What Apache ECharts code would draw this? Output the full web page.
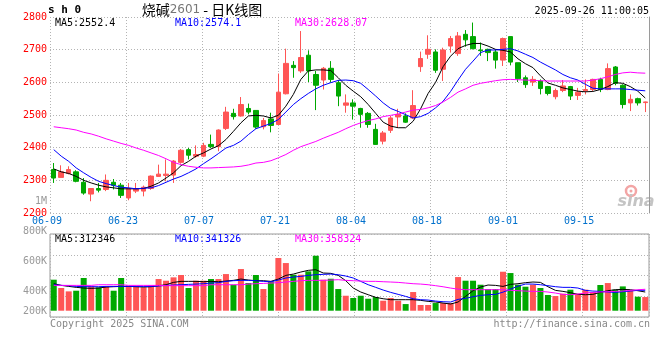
<!DOCTYPE html>
<html><head><meta charset="utf-8">
<script src="https://cdn.jsdelivr.net/npm/echarts@6/dist/echarts.min.js"></script>
<style>html,body{margin:0;padding:0;background:#fff}#c{width:660px;height:360px}</style>
</head><body><div id="c"></div>
<script>
const dates = ['06-09','06-10','06-11','06-12','06-13','06-16','06-17','06-18','06-19','06-20','06-23','06-24','06-25','06-26','06-27','06-30',
'07-01','07-02','07-03','07-04','07-07','07-08','07-09','07-10','07-11','07-14','07-15','07-16','07-17','07-18','07-21','07-22','07-23','07-24','07-25','07-28','07-29','07-30','07-31',
'08-01','08-04','08-05','08-06','08-07','08-08','08-11','08-12','08-13','08-14','08-15','08-18','08-19','08-20','08-21','08-22','08-25','08-26','08-27','08-28','08-29',
'09-01','09-02','09-03','09-04','09-05','09-08','09-09','09-10','09-11','09-12','09-15','09-16','09-17','09-18','09-19','09-22','09-23','09-24','09-25','09-26'];
const dateTicks = ['06-09','06-23','07-07','07-21','08-04','08-18','09-01','09-15'];

const openP = [2333,2309,2321,2326,2294,2258,2275,2272,2294,2285, 2246,2267,2267,2275,2312,2315,2316,2355,2394,2374, 2374,2410,2403,2459,2505,2497,2520,2514,2464,2488, 2471,2565,2652,2635,2683,2624,2607,2643,2599,2530, 2537,2520,2505,2456,2420,2453,2494,2497,2491,2648, 2686,2693,2640,2711,2688,2747,2740,2699,2701,2693, 2668,2740,2660,2614,2601,2604,2587,2556,2575,2587, 2560,2574,2578,2609,2578,2647,2591,2537,2550,2538];
const closeP = [2307,2326,2333,2297,2261,2275,2270,2300,2285,2254, 2275,2275,2279,2313,2319,2319,2359,2392,2377,2379, 2407,2403,2454,2509,2495,2532,2509,2463,2483,2468, 2570,2658,2645,2676,2635,2591,2643,2609,2558,2537, 2527,2502,2471,2410,2445,2491,2502,2478,2529,2673, 2701,2637,2699,2734,2742,2730,2703,2697,2691,2668, 2734,2662,2611,2593,2609,2581,2566,2575,2589,2558, 2570,2578,2609,2578,2642,2597,2532,2548,2537,2540];
const lowP = [2292,2309,2318,2294,2256,2236,2263,2267,2272,2246, 2239,2261,2251,2271,2312,2297,2292,2351,2364,2369, 2371,2399,2389,2454,2486,2495,2502,2458,2456,2447, 2471,2563,2614,2629,2601,2515,2578,2599,2527,2507, 2486,2461,2461,2410,2410,2445,2461,2476,2488,2632, 2672,2629,2604,2691,2681,2709,2701,2681,2665,2642, 2650,2652,2601,2583,2589,2563,2560,2548,2570,2546, 2546,2563,2573,2570,2576,2591,2520,2512,2529,2509];
const highP = [2353,2346,2343,2331,2307,2275,2292,2318,2304,2292, 2292,2292,2284,2315,2348,2364,2362,2396,2399,2407, 2415,2440,2456,2525,2519,2555,2535,2514,2491,2507, 2627,2703,2665,2757,2698,2635,2647,2665,2607,2563, 2548,2522,2509,2473,2451,2497,2519,2505,2576,2694, 2744,2701,2706,2742,2754,2760,2783,2722,2703,2701, 2737,2740,2660,2621,2619,2609,2589,2581,2607,2589, 2583,2609,2611,2614,2658,2650,2594,2563,2553,2541];

const ma5 = [2335,2326,2321,2312,2300,2292,2285,2280,2277,2274, 2274,2274,2275,2282,2292,2307,2323,2345,2358,2374, 2384,2396,2406,2425,2450,2476,2497,2499,2497,2491, 2499,2527,2563,2609,2635,2638,2638,2636,2614,2591, 2573,2556,2532,2505,2478,2466,2461,2461,2481,2519, 2566,2600,2648,2680,2703,2713,2719,2719,2711,2701, 2698,2693,2672,2657,2645,2620,2598,2591,2583,2578, 2573,2571,2572,2578,2587,2599,2597,2587,2573,2552];
const ma10 = [2394,2374,2358,2338,2323,2309,2297,2290,2284,2279, 2277,2274,2276,2277,2284,2294,2304,2312,2323,2335, 2351,2366,2382,2399,2407,2420,2440,2458,2466,2474, 2486,2509,2532,2550,2566,2580,2591,2599,2606,2607, 2605,2597,2578,2558,2537,2520,2511,2501,2491,2495, 2505,2522,2542,2572,2607,2640,2665,2691,2699,2699, 2701,2703,2696,2686,2676,2662,2650,2638,2624,2614, 2607,2594,2582,2580,2580,2580,2580,2578,2576,2574];
const ma30 = [2464,2461,2458,2454,2447,2442,2435,2427,2420,2413, 2407,2399,2392,2384,2376,2366,2355,2348,2343,2340, 2338,2338,2339,2340,2341,2343,2347,2353,2355,2360, 2369,2379,2392,2403,2411,2419,2429,2438,2447,2458, 2468,2476,2483,2488,2495,2499,2503,2509,2515,2517, 2522,2529,2540,2554,2570,2580,2591,2597,2601,2605, 2608,2609,2608,2607,2606,2605,2604,2604,2604,2604, 2604,2604,2607,2611,2617,2624,2629,2631,2629,2628];

// volume in thousands
const volumeK = [518,379,323,334,546,406,390,406,334,546, 406,406,390,423,529,501,557,596,379,501, 501,529,529,612,434,696,462,596,362,490, 880,796,601,601,657,918,518,534,362,250, 212,250,200,228,167,212,167,111,312,95, 95,128,128,128,562,501,501,434,362,362, 651,629,434,401,434,379,262,245,284,351, 284,351,312,429,462,351,406,345,234,228];
const volMa5 = [451,423,406,390,379,373,379,395,401,406, 406,401,395,401,418,434,473,490,490,490, 484,490,484,495,507,529,512,501,501,490, 529,590,612,646,674,685,629,624,590,501, 379,312,267,223,200,184,184,184,184,173, 156,145,128,112,145,239,334,395,429,423, 406,440,451,468,479,473,401,340,323,301, 273,267,273,306,334,351,356,351,334,312];
const volMa10 = [434,423,418,406,401,401,401,406,406,406, 406,406,406,406,412,423,429,434,440,445, 451,462,468,490,501,507,507,501,490,484, 512,546,562,573,590,601,607,612,601,579, 546,490,434,390,345,306,273,239,200,184, 178,161,150,145,189,206,234,256,267,273, 310,360,410,445,445,434,418,401,390,390, 379,340,328,323,312,306,317,328,340,341];
const volMa30 = [423,423,423,423,423,423,434,434,434,434, 423,423,423,423,423,418,418,418,418,418, 418,434,434,434,434,434,445,451,456,462, 468,479,490,501,507,507,507,512,518,507, 501,495,490,490,484,479,473,462,451,445, 434,418,400,378,360,351,351,351,351,351, 351,340,334,328,323,323,312,295,273,267, 278,295,306,312,317,323,328,340,350,358];

const priceMin = 2200, priceMax = 2800, priceStep = 100;
const volLabelMin = 200, volLabelMax = 1000, volLabelStep = 200;

const MONO = '"DejaVu Sans Mono","Liberation Mono",monospace';
const RED = '#ff5555', GREEN = '#00a800', GRIDC = '#b4b4b4';
const dotted = {type: [1, 2], color: GRIDC, width: 1};

const chart = echarts.init(document.getElementById('c'));
const lineS = (name, data, color, xi, yi) => ({
  name, type: 'line', data, xAxisIndex: xi, yAxisIndex: yi, symbol: 'none',
  lineStyle: {color, width: 1}, silent: true, z: 5
});

chart.setOption({
  animation: false,
  backgroundColor: '#fff',
  grid: [
    {left: 50, top: 17, width: 599, height: 196},
    {left: 50, top: 234, width: 599, height: 83, show: true, borderColor: '#9a9a9a', borderWidth: 1},
    {left: 50, top: 201, width: 599, height: 120}
  ],
  xAxis: [
    {type: 'category', gridIndex: 0, data: dates, show: false, position: 'bottom'},
    {type: 'value', gridIndex: 0, min: 0, max: 78.8, interval: 10, position: 'bottom',
     axisLine: {show: false}, axisTick: {show: false},
     splitLine: {show: true, lineStyle: dotted},
     axisLabel: {color: '#0070cc', fontFamily: MONO, fontSize: 10, margin: 3, padding: [0, 6, 0, 0],
       formatter: v => (v % 10 === 0 && dateTicks[v / 10]) ? dateTicks[v / 10] : ''}},
    {type: 'category', gridIndex: 1, data: dates, show: false, position: 'bottom'},
    {type: 'value', gridIndex: 1, min: 0, max: 78.8, interval: 10, position: 'bottom',
     axisLine: {show: false}, axisTick: {show: false}, axisLabel: {show: false},
     splitLine: {show: true, lineStyle: dotted}},
    {type: 'value', gridIndex: 2, min: 0, max: 1, show: false}
  ],
  yAxis: [
    {type: 'value', gridIndex: 0, position: 'left', min: priceMin, max: priceMax, interval: priceStep,
     axisLine: {show: false}, axisTick: {show: false},
     splitLine: {show: true, lineStyle: dotted},
     axisLabel: {color: '#ff0000', fontFamily: MONO, fontSize: 10, margin: 3, formatter: v => String(v)}},
    {type: 'value', gridIndex: 0, position: 'right', min: 0, max: 1,
     axisLine: {show: true, lineStyle: {color: '#9a9a9a', width: 1}}, axisTick: {show: false},
     axisLabel: {show: false}, splitLine: {show: false}},
    {type: 'value', gridIndex: 1, position: 'left', min: -105, max: 1281, show: false},
    {type: 'value', gridIndex: 1, position: 'left', min: 0, max: 4, interval: 1,
     axisLine: {show: false}, axisTick: {show: false}, axisLabel: {show: false},
     splitLine: {show: true, lineStyle: dotted}},
    {type: 'value', gridIndex: 2, position: 'left', min: volLabelMin, max: volLabelMax, interval: volLabelStep,
     axisLine: {show: false}, axisTick: {show: false}, splitLine: {show: false},
     axisLabel: {color: '#999', fontFamily: MONO, fontSize: 10, margin: 3,
       formatter: v => v >= 1000 ? '1M' : (v === volLabelMin ? '{lo|' + v + 'K}' : v + 'K'),
       rich: {lo: {color: '#999', fontFamily: MONO, fontSize: 10, padding: [0, 0, 20, 0]}}}}
  ],
  series: [
    {type: 'candlestick', xAxisIndex: 0, yAxisIndex: 0, barWidth: 5, silent: true,
     data: dates.map((d, i) => [openP[i], closeP[i], lowP[i], highP[i]]),
     itemStyle: {color: RED, color0: GREEN, borderColor: RED, borderColor0: GREEN, borderWidth: 1}},
    lineS('MA5', ma5, '#000000', 0, 0),
    lineS('MA10', ma10, '#0000ff', 0, 0),
    lineS('MA30', ma30, '#ff00ff', 0, 0),
    {type: 'bar', xAxisIndex: 2, yAxisIndex: 2, barWidth: 6, silent: true,
     data: volumeK.map((v, i) => ({value: v, itemStyle: {color: closeP[i] >= openP[i] ? RED : GREEN}}))},
    lineS('VMA5', volMa5, '#000000', 2, 2),
    lineS('VMA10', volMa10, '#0000ff', 2, 2),
    lineS('VMA30', volMa30, '#ff00ff', 2, 2)
  ],
  graphic: [
    {type: 'text', x: 48, y: 16, style: {text: 's h 0', font: 'bold 11px ' + MONO, fill: '#000', verticalAlign: 'bottom'}},
    {type: 'text', x: 202, y: 10, style: {text: '{a|烧碱}{b|2601}{a| - 日K线图}', align: 'center', verticalAlign: 'middle',
      rich: {a: {font: '14px "Noto Sans CJK SC"', fill: '#000'}, b: {font: '12px "DejaVu Sans"', fill: '#777'}}}},
    {type: 'text', x: 649, y: 11, style: {text: '2025-09-26 11:00:05', font: '10px ' + MONO, fill: '#000', align: 'right', verticalAlign: 'middle'}},
    {type: 'text', x: 55, y: 23, style: {text: 'MA5:2552.4', font: '10px ' + MONO, fill: '#000', verticalAlign: 'middle'}},
    {type: 'text', x: 175, y: 23, style: {text: 'MA10:2574.1', font: '10px ' + MONO, fill: '#0000ff', verticalAlign: 'middle'}},
    {type: 'text', x: 295, y: 23, style: {text: 'MA30:2628.07', font: '10px ' + MONO, fill: '#ff00ff', verticalAlign: 'middle'}},
    {type: 'text', x: 55, y: 239, style: {text: 'MA5:312346', font: '10px ' + MONO, fill: '#000', verticalAlign: 'middle'}},
    {type: 'text', x: 175, y: 239, style: {text: 'MA10:341326', font: '10px ' + MONO, fill: '#0000ff', verticalAlign: 'middle'}},
    {type: 'text', x: 295, y: 239, style: {text: 'MA30:358324', font: '10px ' + MONO, fill: '#ff00ff', verticalAlign: 'middle'}},
    {type: 'text', x: 50, y: 324, style: {text: 'Copyright 2025 SINA.COM', font: '10px ' + MONO, fill: '#888', verticalAlign: 'middle'}},
    {type: 'text', x: 650, y: 324, style: {text: 'http://finance.sina.com.cn', font: '10px ' + MONO, fill: '#888', align: 'right', verticalAlign: 'middle'}},
    {type: 'circle', shape: {cx: 631, cy: 191, r: 5}, style: {fill: 'none', stroke: '#f3a5a5', lineWidth: 2.5}},
    {type: 'circle', shape: {cx: 631, cy: 191, r: 1.5}, style: {fill: '#f3a5a5'}},
    {type: 'text', x: 636, y: 202, style: {text: 'sina', font: 'italic bold 16px "DejaVu Sans"', fill: '#c4c4c4', align: 'center', verticalAlign: 'middle'}}
  ]
});
</script>
</body></html>
